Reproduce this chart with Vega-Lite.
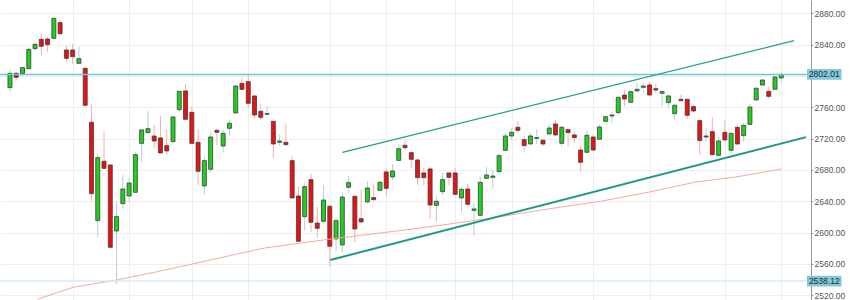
{
"$schema": "https://vega.github.io/schema/vega-lite/v6.json",
"width": 811, "height": 300,
"autosize": "none",
"padding": {"left": 0, "top": 0, "right": 39, "bottom": 0},
"background": "white",
"config": {"view": {"stroke": null}, "axis": {"labelOverlap": false}},
"datasets": {
"candles": [
{"i":1,"o":2785.1,"h":2807.7,"l":2780.0,"c":2803.4},
{"i":2,"o":2803.4,"h":2805.5,"l":2794.0,"c":2798.3},
{"i":3,"o":2803.0,"h":2811.9,"l":2800.0,"c":2810.6},
{"i":4,"o":2809.4,"h":2835.3,"l":2808.5,"c":2834.0},
{"i":5,"o":2834.9,"h":2842.6,"l":2832.3,"c":2840.4},
{"i":6,"o":2846.8,"h":2854.5,"l":2826.8,"c":2837.9},
{"i":7,"o":2847.2,"h":2849.4,"l":2831.1,"c":2840.0},
{"i":8,"o":2848.1,"h":2874.9,"l":2847.2,"c":2873.6},
{"i":9,"o":2868.1,"h":2871.5,"l":2852.3,"c":2854.0},
{"i":10,"o":2833.2,"h":2838.7,"l":2818.3,"c":2822.6},
{"i":11,"o":2833.2,"h":2840.9,"l":2815.3,"c":2824.7},
{"i":12,"o":2816.2,"h":2837.5,"l":2815.3,"c":2822.1},
{"i":13,"o":2809.8,"h":2810.2,"l":2760.9,"c":2762.6},
{"i":14,"o":2740.9,"h":2763.8,"l":2639.6,"c":2649.8},
{"i":15,"o":2615.3,"h":2701.3,"l":2594.0,"c":2695.7},
{"i":16,"o":2691.1,"h":2728.1,"l":2681.7,"c":2682.1},
{"i":17,"o":2686.4,"h":2687.0,"l":2580.5,"c":2581.3},
{"i":18,"o":2602.1,"h":2639.6,"l":2534.5,"c":2620.4},
{"i":19,"o":2637.0,"h":2673.6,"l":2631.1,"c":2655.7},
{"i":20,"o":2646.8,"h":2670.2,"l":2639.6,"c":2663.4},
{"i":21,"o":2651.5,"h":2703.4,"l":2651.1,"c":2699.6},
{"i":22,"o":2714.0,"h":2731.9,"l":2690.6,"c":2731.1},
{"i":23,"o":2727.7,"h":2755.3,"l":2726.8,"c":2732.8},
{"i":24,"o":2723.4,"h":2737.5,"l":2707.7,"c":2717.0},
{"i":25,"o":2720.9,"h":2748.9,"l":2701.3,"c":2701.7},
{"i":26,"o":2711.1,"h":2731.9,"l":2699.2,"c":2704.3},
{"i":27,"o":2716.2,"h":2748.9,"l":2715.7,"c":2747.7},
{"i":28,"o":2757.0,"h":2781.3,"l":2754.5,"c":2780.4},
{"i":29,"o":2780.9,"h":2789.8,"l":2744.2,"c":2744.7},
{"i":30,"o":2753.6,"h":2761.7,"l":2713.6,"c":2714.0},
{"i":31,"o":2715.3,"h":2731.9,"l":2660.9,"c":2678.3},
{"i":32,"o":2659.6,"h":2697.0,"l":2648.9,"c":2691.9},
{"i":33,"o":2680.9,"h":2728.9,"l":2676.6,"c":2722.1},
{"i":34,"o":2730.6,"h":2732.8,"l":2711.9,"c":2728.1},
{"i":35,"o":2710.6,"h":2731.1,"l":2702.1,"c":2726.8},
{"i":36,"o":2733.2,"h":2743.8,"l":2723.8,"c":2739.6},
{"i":37,"o":2752.8,"h":2788.5,"l":2751.9,"c":2787.2},
{"i":38,"o":2790.6,"h":2798.3,"l":2781.3,"c":2783.0},
{"i":39,"o":2792.8,"h":2802.6,"l":2759.6,"c":2765.1},
{"i":40,"o":2774.5,"h":2775.7,"l":2745.5,"c":2750.2},
{"i":41,"o":2754.9,"h":2765.1,"l":2743.0,"c":2747.2},
{"i":42,"o":2751.1,"h":2761.7,"l":2750.2,"c":2751.9},
{"i":43,"o":2742.1,"h":2743.0,"l":2695.3,"c":2713.2},
{"i":44,"o":2715.3,"h":2725.1,"l":2711.1,"c":2717.0},
{"i":45,"o":2715.3,"h":2739.6,"l":2711.1,"c":2712.3},
{"i":46,"o":2691.9,"h":2697.0,"l":2643.4,"c":2644.3},
{"i":47,"o":2646.8,"h":2658.7,"l":2588.1,"c":2588.9},
{"i":48,"o":2620.4,"h":2663.0,"l":2602.6,"c":2658.7},
{"i":49,"o":2667.7,"h":2675.7,"l":2600.4,"c":2613.2},
{"i":50,"o":2612.3,"h":2633.2,"l":2594.0,"c":2605.5},
{"i":51,"o":2614.5,"h":2660.4,"l":2612.8,"c":2641.7},
{"i":52,"o":2633.6,"h":2635.3,"l":2556.2,"c":2582.6},
{"i":53,"o":2591.9,"h":2619.6,"l":2577.0,"c":2615.3},
{"i":54,"o":2584.3,"h":2651.1,"l":2574.9,"c":2645.5},
{"i":55,"o":2657.9,"h":2672.8,"l":2650.2,"c":2663.8},
{"i":56,"o":2646.4,"h":2647.7,"l":2587.7,"c":2604.7},
{"i":57,"o":2617.9,"h":2654.5,"l":2612.8,"c":2613.6},
{"i":58,"o":2639.2,"h":2666.0,"l":2637.5,"c":2657.0},
{"i":59,"o":2644.7,"h":2663.0,"l":2640.0,"c":2642.1},
{"i":60,"o":2654.0,"h":2666.0,"l":2653.2,"c":2664.3},
{"i":61,"o":2677.5,"h":2681.7,"l":2646.0,"c":2656.6},
{"i":62,"o":2671.1,"h":2687.7,"l":2667.2,"c":2678.7},
{"i":63,"o":2692.3,"h":2713.2,"l":2691.5,"c":2707.2},
{"i":64,"o":2711.5,"h":2718.3,"l":2705.5,"c":2708.5},
{"i":65,"o":2702.1,"h":2703.4,"l":2682.1,"c":2693.6},
{"i":66,"o":2692.8,"h":2694.9,"l":2660.9,"c":2670.2},
{"i":67,"o":2676.2,"h":2683.0,"l":2659.6,"c":2670.2},
{"i":68,"o":2681.3,"h":2684.3,"l":2618.3,"c":2635.3},
{"i":69,"o":2634.9,"h":2646.0,"l":2614.0,"c":2640.0},
{"i":70,"o":2652.3,"h":2677.0,"l":2648.5,"c":2667.7},
{"i":71,"o":2676.2,"h":2676.6,"l":2660.9,"c":2670.6},
{"i":72,"o":2676.2,"h":2683.0,"l":2648.1,"c":2648.9},
{"i":73,"o":2644.3,"h":2657.9,"l":2626.0,"c":2655.3},
{"i":74,"o":2655.7,"h":2662.1,"l":2634.9,"c":2636.2},
{"i":75,"o":2628.5,"h":2637.5,"l":2595.7,"c":2630.2},
{"i":76,"o":2622.1,"h":2671.5,"l":2621.3,"c":2664.3},
{"i":77,"o":2669.4,"h":2684.3,"l":2668.5,"c":2673.6},
{"i":78,"o":2670.6,"h":2680.0,"l":2656.6,"c":2672.3},
{"i":79,"o":2677.9,"h":2701.3,"l":2675.7,"c":2698.3},
{"i":80,"o":2705.1,"h":2726.8,"l":2704.3,"c":2723.4},
{"i":81,"o":2723.4,"h":2733.2,"l":2718.3,"c":2728.1},
{"i":82,"o":2734.5,"h":2742.6,"l":2726.8,"c":2730.6},
{"i":83,"o":2718.7,"h":2723.4,"l":2703.4,"c":2711.1},
{"i":84,"o":2713.2,"h":2727.7,"l":2712.8,"c":2723.4},
{"i":85,"o":2720.4,"h":2732.3,"l":2713.2,"c":2721.3},
{"i":86,"o":2717.9,"h":2719.2,"l":2710.6,"c":2713.2},
{"i":87,"o":2726.0,"h":2738.7,"l":2724.7,"c":2733.6},
{"i":88,"o":2738.7,"h":2743.8,"l":2723.4,"c":2724.7},
{"i":89,"o":2714.0,"h":2736.2,"l":2709.8,"c":2734.5},
{"i":90,"o":2731.5,"h":2733.2,"l":2709.8,"c":2727.7},
{"i":91,"o":2724.7,"h":2728.9,"l":2714.9,"c":2721.3},
{"i":92,"o":2705.5,"h":2710.6,"l":2677.9,"c":2689.8},
{"i":93,"o":2702.6,"h":2730.2,"l":2702.1,"c":2724.3},
{"i":94,"o":2722.1,"h":2724.7,"l":2704.7,"c":2705.5},
{"i":95,"o":2719.2,"h":2737.5,"l":2718.3,"c":2734.9},
{"i":96,"o":2742.1,"h":2748.9,"l":2741.3,"c":2748.1},
{"i":97,"o":2748.9,"h":2754.5,"l":2740.4,"c":2750.2},
{"i":98,"o":2753.2,"h":2773.6,"l":2750.2,"c":2772.8},
{"i":99,"o":2775.7,"h":2782.1,"l":2761.7,"c":2770.6},
{"i":100,"o":2766.4,"h":2781.3,"l":2765.1,"c":2780.0},
{"i":101,"o":2780.9,"h":2791.5,"l":2779.1,"c":2783.0},
{"i":102,"o":2785.5,"h":2791.5,"l":2778.7,"c":2787.2},
{"i":103,"o":2788.5,"h":2792.8,"l":2775.3,"c":2775.7},
{"i":104,"o":2783.8,"h":2789.8,"l":2777.9,"c":2782.1},
{"i":105,"o":2777.9,"h":2783.0,"l":2761.7,"c":2780.0},
{"i":106,"o":2766.0,"h":2775.7,"l":2758.7,"c":2774.5},
{"i":107,"o":2751.9,"h":2765.1,"l":2744.7,"c":2762.6},
{"i":108,"o":2770.2,"h":2775.7,"l":2768.1,"c":2768.5},
{"i":109,"o":2770.2,"h":2771.1,"l":2745.1,"c":2749.8},
{"i":110,"o":2760.9,"h":2763.0,"l":2754.0,"c":2755.3},
{"i":111,"o":2743.0,"h":2743.8,"l":2699.2,"c":2717.5},
{"i":112,"o":2722.1,"h":2733.2,"l":2716.2,"c":2723.4},
{"i":113,"o":2728.9,"h":2747.2,"l":2698.7,"c":2699.6},
{"i":114,"o":2698.7,"h":2722.6,"l":2697.9,"c":2717.0},
{"i":115,"o":2728.1,"h":2743.8,"l":2717.5,"c":2718.3},
{"i":116,"o":2705.1,"h":2727.7,"l":2700.4,"c":2726.8},
{"i":117,"o":2734.5,"h":2737.5,"l":2712.3,"c":2713.2},
{"i":118,"o":2723.8,"h":2739.6,"l":2716.2,"c":2737.0},
{"i":119,"o":2738.3,"h":2764.3,"l":2737.5,"c":2760.4},
{"i":120,"o":2769.4,"h":2785.5,"l":2768.5,"c":2784.3},
{"i":121,"o":2788.5,"h":2795.7,"l":2787.7,"c":2794.9},
{"i":122,"o":2780.4,"h":2786.4,"l":2770.2,"c":2774.0},
{"i":123,"o":2783.0,"h":2800.0,"l":2782.1,"c":2798.7},
{"i":124,"o":2797.5,"h":2805.5,"l":2792.8,"c":2802.01}
],
"ma": [
{"i":5.4,"v":2515.0},{"i":11.24,"v":2530.6},{"i":17.54,"v":2538.7},{"i":24.3,"v":2549.8},
{"i":30.1,"v":2560.0},{"i":41.6,"v":2580.4},{"i":52.2,"v":2591.9},{"i":64.0,"v":2603.4},
{"i":71.1,"v":2611.0},{"i":78.95,"v":2620.0},{"i":86.8,"v":2630.2},{"i":95.5,"v":2640.4},
{"i":103.0,"v":2651.9},{"i":110.4,"v":2664.7},{"i":116.7,"v":2671.0},{"i":124.0,"v":2681.2}
],
"upper": [{"i":54.02,"v":2702.6},{"i":126.04,"v":2845.0}],
"lower": [{"i":52.07,"v":2565.1},{"i":127.94,"v":2721.9}],
"levels": [{"v":2802.01,"label":"2802.01"},{"v":2538.12,"label":"2538.12"}],
"boxes": [{"v1":2795.2,"v2":2808.8,"x1":128.1,"x2":133.6,"xt":130.85,"v":2802.01,"label":"2802.01"},{"v1":2531.3,"v2":2544.9,"x1":128.1,"x2":133.6,"xt":130.85,"v":2538.12,"label":"2538.12"}]
},
"layer": [
{
"data": {"name": "candles"},
"mark": {"type": "rule", "strokeWidth": 1},
"encoding": {
"x": {"field": "i", "type": "quantitative", "scale": {"domain": [0.21, 127.94], "nice": false, "zero": false},
"axis": {"title": null, "values": [11,20,30,39,52,61,72,81,94,103,115,124], "tickCount": 30, "grid": true, "gridColor": "#eeeeee", "labels": false, "ticks": false, "domain": false}},
"y": {"field": "l", "type": "quantitative", "scale": {"domain": [2514, 2897], "nice": false, "zero": false},
"axis": {"title": null, "orient": "right", "values": [2520,2560,2600,2640,2680,2720,2760,2800,2840,2880], "tickCount": 20, "format": ".2f",
"labelExpr": "datum.value == 2800 ? ' ' : datum.label", "grid": true, "gridColor": "#eeeeee",
"domainColor": "#999999", "tickColor": "#999999", "tickSize": 2, "labelPadding": 1,
"labelFont": "Liberation Sans", "labelFontSize": 8.5, "labelColor": "#555555", "labelOverlap": false, "labelFlush": false, "labelSeparation": 0}},
"y2": {"field": "h"},
"color": {"condition": {"test": "datum.c >= datum.o", "value": "#b3cfd8"}, "value": "#f4b0b0"}
}
},
{
"data": {"name": "candles"},
"mark": {"type": "bar", "size": 4, "stroke": "#3c3c3c", "strokeWidth": 0.8},
"encoding": {
"x": {"field": "i", "type": "quantitative"},
"y": {"field": "o", "type": "quantitative"},
"y2": {"field": "c"},
"color": {"condition": {"test": "datum.c >= datum.o", "value": "#1dd11d"}, "value": "#e81212"}
}
},
{
"data": {"name": "ma"},
"mark": {"type": "line", "color": "#f2ab9e", "strokeWidth": 1},
"encoding": {"x": {"field": "i", "type": "quantitative"}, "y": {"field": "v", "type": "quantitative"}}
},
{
"data": {"name": "levels"},
"mark": {"type": "rule", "strokeWidth": 1.5},
"encoding": {
"y": {"field": "v", "type": "quantitative"},
"color": {"condition": {"test": "datum.v > 2700", "value": "#6ec6d8"}, "value": "#d4edf3"}
}
},
{
"data": {"name": "upper"},
"mark": {"type": "line", "color": "#20a08e", "strokeWidth": 1.3},
"encoding": {"x": {"field": "i", "type": "quantitative"}, "y": {"field": "v", "type": "quantitative"}}
},
{
"data": {"name": "lower"},
"mark": {"type": "line", "color": "#1f9986", "strokeWidth": 2},
"encoding": {"x": {"field": "i", "type": "quantitative"}, "y": {"field": "v", "type": "quantitative"}}
},
{
"data": {"name": "boxes"},
"mark": {"type": "rect", "color": "#80c9da"},
"encoding": {
"x": {"field": "x1", "type": "quantitative"}, "x2": {"field": "x2"},
"y": {"field": "v1", "type": "quantitative"}, "y2": {"field": "v2"}
}
},
{
"data": {"name": "boxes"},
"mark": {"type": "text", "font": "Liberation Sans", "fontSize": 8.5, "color": "#2a2a2a", "align": "center", "baseline": "middle"},
"encoding": {
"x": {"field": "xt", "type": "quantitative"},
"y": {"field": "v", "type": "quantitative"},
"text": {"field": "label"}
}
}
]
}
